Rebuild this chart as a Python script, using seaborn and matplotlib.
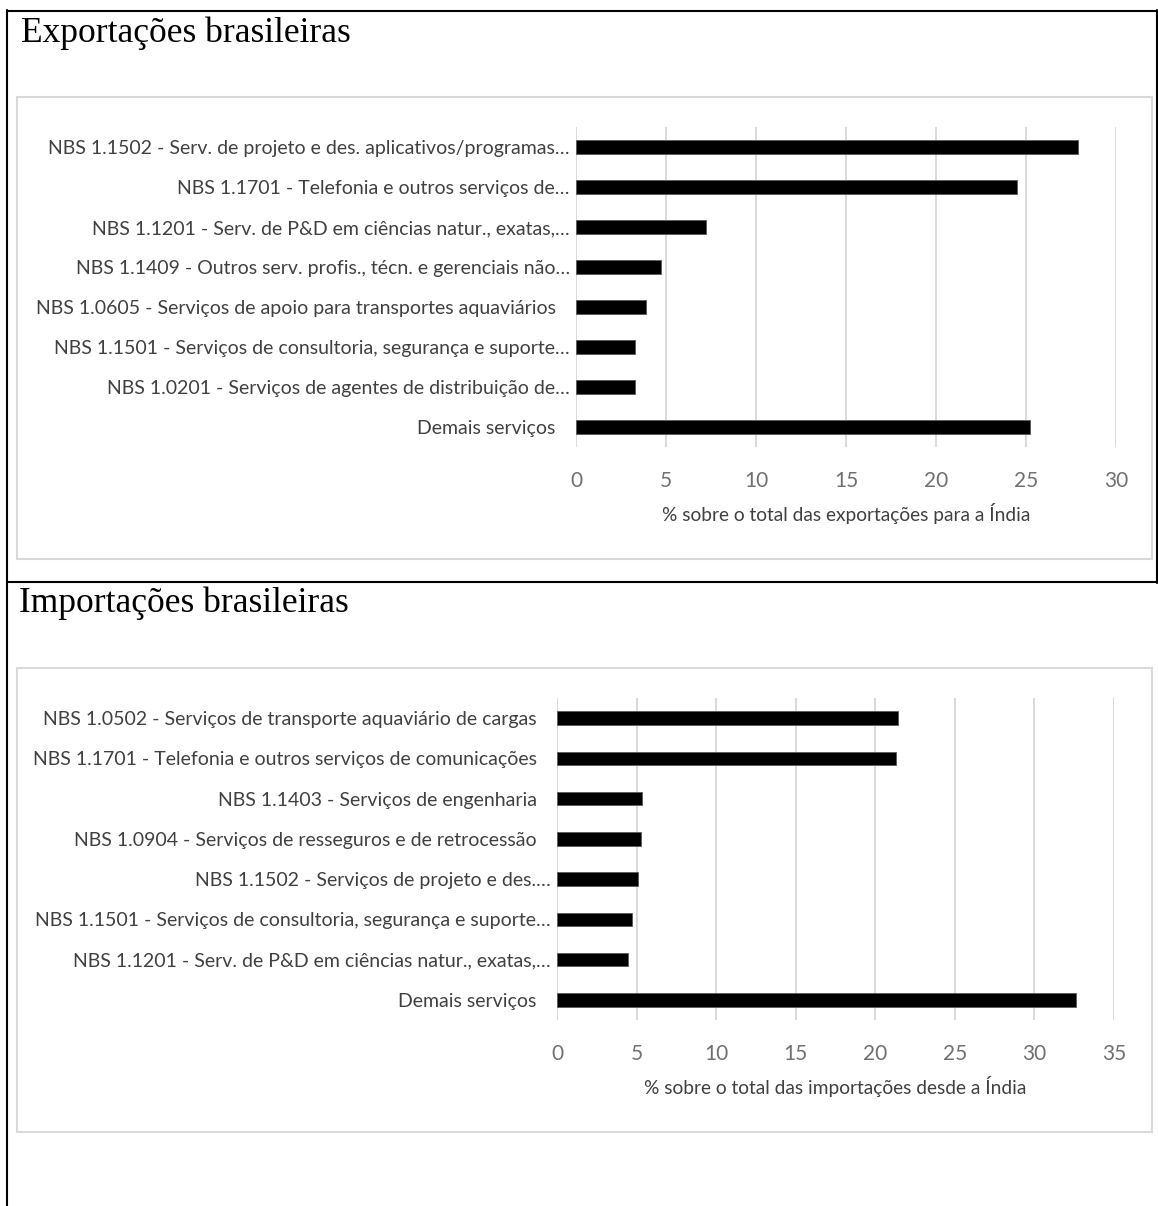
import matplotlib
matplotlib.use("Agg")
import matplotlib.pyplot as plt
import matplotlib.transforms as mtransforms
from matplotlib.lines import Line2D
from matplotlib.patches import Rectangle
import pandas as pd
import seaborn as sns

# dados
exp_title = "Exportações brasileiras"
exp_labels = [
    "NBS 1.1502 - Serv. de projeto e des. aplicativos/programas…",
    "NBS 1.1701 - Telefonia e outros serviços de…",
    "NBS 1.1201 - Serv. de P&D em ciências natur., exatas,…",
    "NBS 1.1409 - Outros serv. profis., técn. e gerenciais não…",
    "NBS 1.0605 - Serviços de apoio para transportes aquaviários",
    "NBS 1.1501 - Serviços de consultoria, segurança e suporte…",
    "NBS 1.0201 - Serviços de agentes de distribuição de…",
    "Demais serviços",
]
exp_values = [27.9, 24.5, 7.2, 4.7, 3.9, 3.3, 3.3, 25.2]
exp_ticks = [0, 5, 10, 15, 20, 25, 30]
exp_xlabel = "% sobre o total das exportações para a Índia"

imp_title = "Importações brasileiras"
imp_labels = [
    "NBS 1.0502 - Serviços de transporte aquaviário de cargas",
    "NBS 1.1701 - Telefonia e outros serviços de comunicações",
    "NBS 1.1403 - Serviços de engenharia",
    "NBS 1.0904 - Serviços de resseguros e de retrocessão",
    "NBS 1.1502 - Serviços de projeto e des.…",
    "NBS 1.1501 - Serviços de consultoria, segurança e suporte…",
    "NBS 1.1201 - Serv. de P&D em ciências natur., exatas,…",
    "Demais serviços",
]
imp_values = [21.45, 21.3, 5.35, 5.25, 5.1, 4.7, 4.45, 32.6]
imp_ticks = [0, 5, 10, 15, 20, 25, 30, 35]
imp_xlabel = "% sobre o total das importações desde a Índia"

sns.set_theme(style="white")
plt.rcParams["font.family"] = ["Lato", "DejaVu Sans"]

W, H = 1158, 1206
fig = plt.figure(figsize=(W / 100, H / 100), dpi=100)


def box(l, t, r, b):
    # pixel box -> figure fraction [left, bottom, width, height]
    return [l / W, 1 - b / H, (r - l) / W, (b - t) / H]


def draw(ax, labels, values, ticks, xlabel):
    df = pd.DataFrame({"cat": labels, "val": values})
    sns.barplot(data=df, x="val", y="cat", orient="h", color="black",
                saturation=1, width=0.33, edgecolor="#595959",
                linewidth=0.6, ax=ax)
    ax.set_xlim(ticks[0], ticks[-1])
    ax.set_ylim(len(labels) - 0.5, -0.5)
    ax.set_xticks(ticks)
    ax.grid(axis="x", color="#d9d9d9", lw=1.4)
    ax.grid(axis="y", visible=False)
    ax.set_axisbelow(True)
    for s in ax.spines.values():
        s.set_visible(False)
    ax.tick_params(axis="x", length=0, labelsize=15, labelcolor="#707070", pad=17)
    ax.tick_params(axis="y", length=0, labelsize=14, labelcolor="#404040", pad=4.5)
    ax.set_ylabel("")
    ax.set_xlabel(xlabel, fontsize=13.8, color="#404040", labelpad=9)
    # rótulos completos ficam um pouco mais afastados do eixo (como no Excel)
    shift = mtransforms.ScaledTranslation(-10 / 72, 0, fig.dpi_scale_trans)
    for lab in ax.get_yticklabels():
        if not lab.get_text().endswith("…"):
            lab.set_transform(lab.get_transform() + shift)


ax1 = fig.add_axes(box(576, 127, 1116, 447))
draw(ax1, exp_labels, exp_values, exp_ticks, exp_xlabel)

ax2 = fig.add_axes(box(557, 698, 1114, 1020))
draw(ax2, imp_labels, imp_values, imp_ticks, imp_xlabel)

# títulos em serifa
fig.text(21 / W, 1 - 41.7 / H, exp_title, family=["Liberation Serif", "DejaVu Serif"],
         fontsize=25.5, color="black", va="baseline", ha="left")
fig.text(19 / W, 1 - 611.7 / H, imp_title, family=["Liberation Serif", "DejaVu Serif"],
         fontsize=25.5, color="black", va="baseline", ha="left")

# molduras cinza dos gráficos
for t, b in [(97, 559), (668, 1132)]:
    fig.patches.append(Rectangle((17 / W, 1 - b / H), (1152 - 17) / W, (b - t) / H,
                                 transform=fig.transFigure, fill=False,
                                 edgecolor="#d9d9d9", lw=1.5))


# bordas da tabela
def hline(y, x0, x1):
    fig.add_artist(Line2D([x0 / W, x1 / W], [1 - y / H, 1 - y / H], color="black", lw=1.5))


def vline(x, y0, y1):
    fig.add_artist(Line2D([x / W, x / W], [1 - y0 / H, 1 - y1 / H], color="black", lw=1.5))


hline(11, 7, W)
hline(582, 7, W)
vline(7.5, 10, H)
vline(1157, 10, 583)

fig.savefig("out.png", dpi=100)
